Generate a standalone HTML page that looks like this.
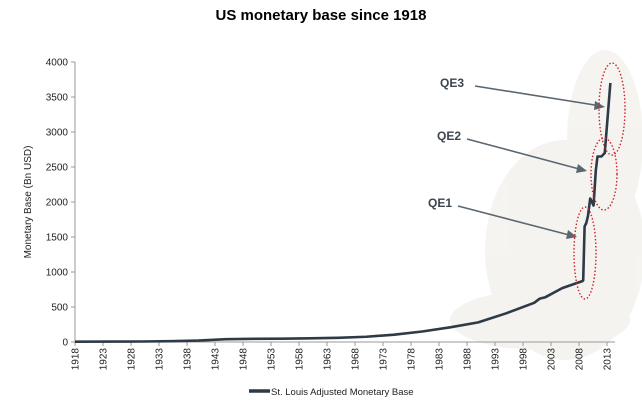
<!DOCTYPE html>
<html><head><meta charset="utf-8"><style>
body{margin:0;background:#fff;}
svg{display:block;font-family:"Liberation Sans",sans-serif;}
</style></head><body>
<svg width="642" height="410" viewBox="0 0 642 410">
<g fill="#f1efea" opacity="0.7">
<ellipse cx="565" cy="250" rx="80" ry="110"/>
<ellipse cx="605" cy="140" rx="38" ry="90"/>
<ellipse cx="540" cy="320" rx="90" ry="30"/>
</g>
<text x="321" y="20" text-anchor="middle" font-size="15" font-weight="bold" fill="#000">US monetary base since 1918</text>
<text transform="translate(31,202) rotate(-90)" text-anchor="middle" font-size="10" fill="#222">Monetary Base (Bn USD)</text>
<g id="axes"></g>
<g id="series"></g>
<g>
<g stroke="#5a6670" stroke-width="1.6" fill="none">
<line x1="475" y1="86" x2="601" y2="106"/>
<line x1="467" y1="139" x2="583" y2="170"/>
<line x1="458" y1="206" x2="573" y2="236"/>
</g>
<g fill="#5a6670">
<polygon points="605,107 595,101 594,110"/>
<polygon points="587,171 578,164 576,173"/>
<polygon points="577,237 568,230 566,239"/>
</g>
<text x="440" y="87" font-size="12" font-weight="bold" fill="#3c4650">QE3</text>
<text x="437" y="140" font-size="12" font-weight="bold" fill="#3c4650">QE2</text>
<text x="428" y="207" font-size="12" font-weight="bold" fill="#3c4650">QE1</text>
<g fill="none" stroke="#d0202a" stroke-width="1.4" stroke-dasharray="1.5,2">
<ellipse cx="612" cy="109" rx="13" ry="46"/>
<ellipse cx="604" cy="174" rx="13" ry="36"/>
<ellipse cx="585" cy="253" rx="11" ry="46"/>
</g>
</g>
<g>
<line x1="249" y1="391" x2="270" y2="391" stroke="#2e3a46" stroke-width="3.5"/>
<text x="271" y="395" font-size="9.5" fill="#222">St. Louis Adjusted Monetary Base</text>
</g>
</svg>
<script>
const years=[1918,1925,1930,1935,1940,1945,1950,1955,1960,1965,1970,1975,1980,1985,1990,1995,2000,2001,2002,2005,2008.6,2008.75,2009,2009.3,2009.6,2010,2010.3,2010.6,2011,2011.3,2012,2012.6,2013.6];
const values=[5,6,7,12,20,40,45,48,52,60,75,105,150,210,280,410,560,620,640,770,870,880,1650,1700,1800,2050,2000,1950,2450,2650,2650,2700,3700];
const yTicks=[0,500,1000,1500,2000,2500,3000,3500,4000];
const xTickYears=[1918,1923,1928,1933,1938,1943,1948,1953,1958,1963,1968,1973,1978,1983,1988,1993,1998,2003,2008,2013];
const NS="http://www.w3.org/2000/svg";
const x0=75,x1=607,y0=342,y1=62;
const xs=y=>x0+(y-1918)/(2013-1918)*(x1-x0);
const ys=v=>y0-v/4000*(y0-y1);
const axes=document.getElementById('axes');
function mk(t,a){const e=document.createElementNS(NS,t);for(const k in a)e.setAttribute(k,a[k]);return e;}
const ya=mk('line',{x1:x0,y1:y1,x2:x0,y2:y0,stroke:'#999'});


axes.appendChild(ya);
const xa=mk('line',{x1:x0,y1:y0,x2:x1+8,y2:y0,stroke:'#999'});


axes.appendChild(xa);
yTicks.forEach(v=>{
 const t=mk('line',{x1:x0-4,y1:ys(v),x2:x0,y2:ys(v),stroke:'#999'});
 
 
 axes.appendChild(t);
 const l=mk('text',{x:x0-7,y:ys(v)+3.5,'text-anchor':'end','font-size':'10',fill:'#222'});
 l.textContent=v;
 
 
 axes.appendChild(l);
});
xTickYears.forEach(yr=>{
 const x=xs(yr);
 const t=mk('line',{x1:x,y1:y0,x2:x,y2:y0+4,stroke:'#999'});
 
 
 axes.appendChild(t);
 const l=mk('text',{transform:`translate(${x+3.5},${y0+6}) rotate(-90)`,'text-anchor':'end','font-size':'10',fill:'#222'});
 l.textContent=yr;
 
 
 axes.appendChild(l);
});
const p=mk('polyline',{points:years.map((y,i)=>xs(y)+','+ys(values[i])).join(' '),fill:'none',stroke:'#2e3a46','stroke-width':'2.6','stroke-linejoin':'round'});


document.getElementById('series').appendChild(p);
</script>
</body></html>
